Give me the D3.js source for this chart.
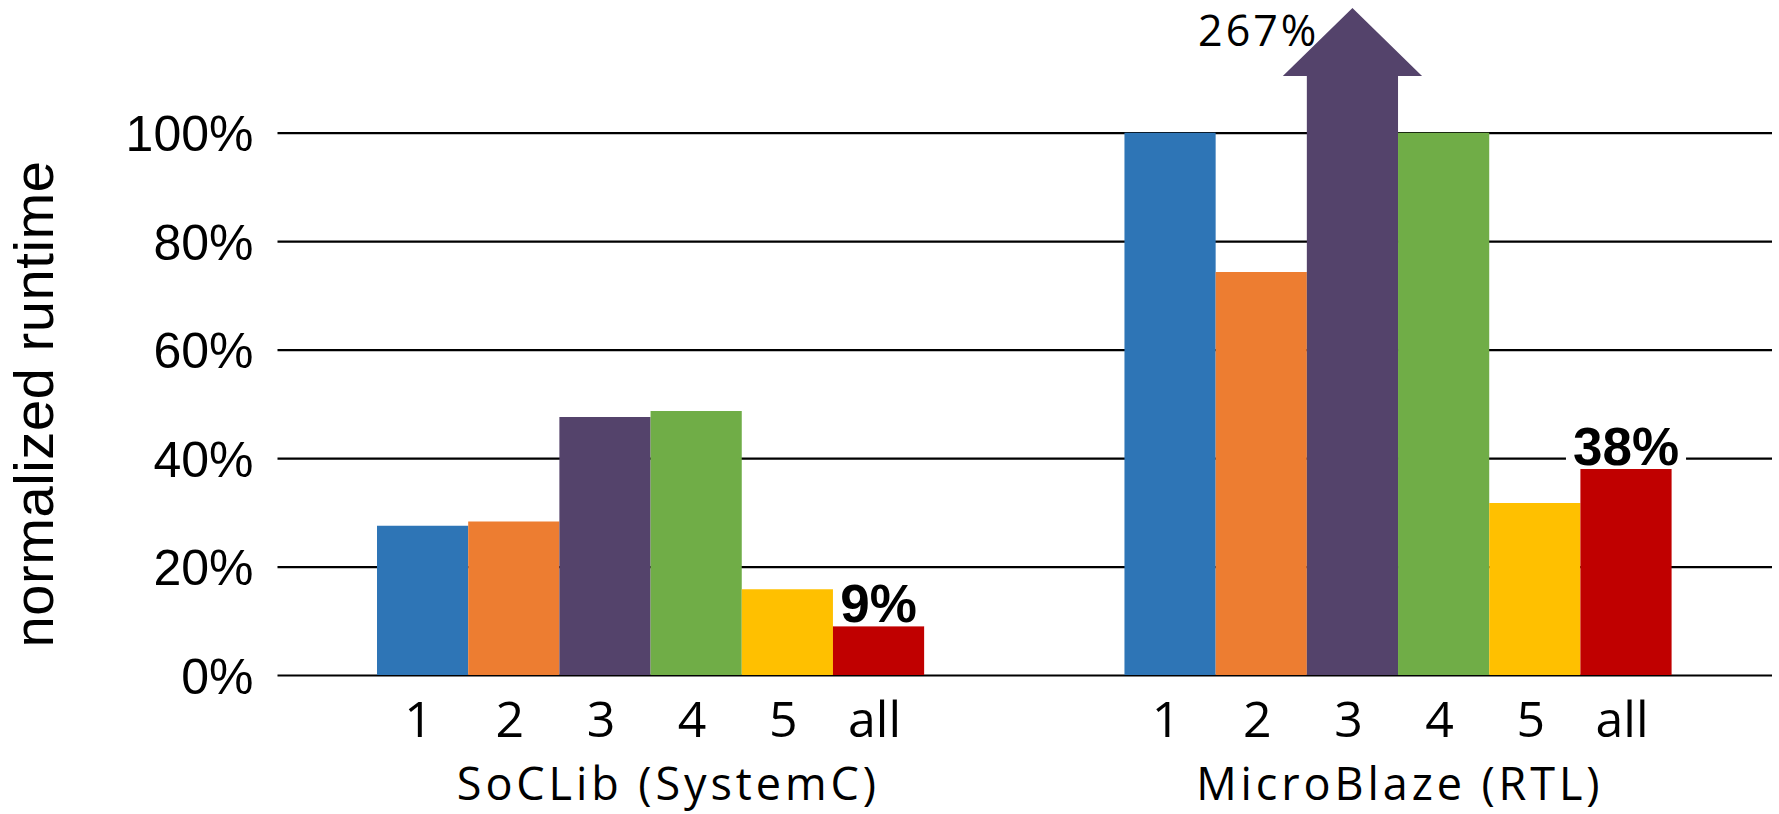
<!DOCTYPE html>
<html>
<head>
<meta charset="utf-8">
<script src="https://cdn.jsdelivr.net/npm/d3@7"></script>
<style>
  html, body { margin: 0; padding: 0; background: #fff; }
  svg { display: block; }
</style>
</head>
<body>
<svg id="chart" width="1779" height="814"></svg>
<script>
// ---- data ----
const groups = ["SoCLib (SystemC)", "MicroBlaze (RTL)"];
const configs = ["1", "2", "3", "4", "5", "all"];
const socLibRuntime = [27.5, 28.3, 47.6, 48.7, 15.8, 9];
const microBlazeRuntime = [100, 74.3, 267, 100, 31.7, 38];
const yTicks = [0, 20, 40, 60, 80, 100];
const labelledConfig = "all";

// ---- styling / layout ----
const colors = ["#2E75B6", "#ED7D31", "#54436B", "#70AD47", "#FFC000", "#C00000"];
const W = 1779, H = 814;
const plotLeft = 277.5, plotRight = 1772;
const yBase = 675, yTop = 8;
const yVisibleMax = 123;          // values above this are drawn as an arrow
const arrowHead = 68;             // arrowhead height in px
const arrowOverhang = 24;         // how far the head sticks out past the shaft
const groupLabelShift = [16, 0];

const series = [socLibRuntime, microBlazeRuntime];
const rows = [];
groups.forEach((g, gi) => configs.forEach((c, ci) =>
  rows.push({ group: g, gi, config: c, ci, value: series[gi][ci] })));

const svg = d3.select("#chart");
svg.append("rect").attr("width", W).attr("height", H).attr("fill", "#fff");

const y = d3.scaleLinear().domain([0, yVisibleMax]).range([yBase, yTop]).clamp(true);
const x0 = d3.scaleBand().domain(groups).range([377, 1671.6]).paddingInner(0.268).paddingOuter(0);
const x1 = d3.scaleBand().domain(configs).range([0, x0.bandwidth()]).padding(0);
const color = d3.scaleOrdinal().domain(configs).range(colors);

// gridlines + y tick labels
const yAxis = d3.axisLeft(y)
  .tickValues(yTicks)
  .tickFormat(d => d + "%")
  .tickSize(-(plotRight - plotLeft))
  .tickPadding(24);

const gy = svg.append("g").attr("transform", `translate(${plotLeft},0)`).call(yAxis);
gy.select(".domain").remove();
gy.selectAll(".tick line").attr("stroke", "#000").attr("stroke-width", 2.2);
gy.selectAll(".tick text")
  .attr("font-family", "'Liberation Sans', Arial, sans-serif")
  .attr("font-size", 50)
  .attr("fill", "#000")
  .attr("dy", "0.36em");

// y axis title
svg.append("text")
  .attr("transform", "translate(53,404) rotate(-90)")
  .attr("text-anchor", "middle")
  .attr("font-family", "'Liberation Sans', Arial, sans-serif")
  .attr("font-size", 56)
  .attr("letter-spacing", 0.6)
  .attr("fill", "#000")
  .text("normalized runtime");

// bars
const barX = d => x0(d.group) + x1(d.config);
const bw = x1.bandwidth();

const bars = svg.append("g");
bars.selectAll("path")
  .data(rows)
  .join("path")
  .attr("fill", d => color(d.config))
  .attr("d", d => {
    const xl = barX(d), xr = xl + bw;
    if (d.value <= yVisibleMax) {
      const yt = y(d.value);
      return `M${xl},${yBase}V${yt}H${xr}V${yBase}Z`;
    }
    // clipped value: shaft with an upward arrowhead
    const tip = y(d.value);
    const hb = tip + arrowHead;
    const cx = xl + bw / 2;
    return `M${xl},${yBase}V${hb}H${xl - arrowOverhang}L${cx},${tip}L${xr + arrowOverhang},${hb}H${xr}V${yBase}Z`;
  });

// value label for clipped bar
rows.filter(d => d.value > yVisibleMax).forEach(d => {
  svg.append("text")
    .attr("x", barX(d) + bw / 2 - 33)
    .attr("y", y(d.value) + 38)
    .attr("text-anchor", "end")
    .attr("font-family", "'Open Sans', sans-serif")
    .attr("font-size", 43)
    .attr("letter-spacing", 3)
    .attr("fill", "#000")
    .text(d.value + "%");
});

// highlighted labels on the combined configuration
rows.filter(d => d.config === labelledConfig).forEach(d => {
  const cx = barX(d) + bw / 2;
  const base = y(d.value) - 4;
  const g = svg.append("g");
  const bg = g.append("rect").attr("fill", "#fff");
  const t = g.append("text")
    .attr("x", cx)
    .attr("y", base)
    .attr("text-anchor", "middle")
    .attr("font-family", "'Liberation Sans', Arial, sans-serif")
    .attr("font-weight", "bold")
    .attr("font-size", 53)
    .attr("fill", "#000")
    .text(Math.round(d.value) + "%");
  const bb = t.node().getBBox();
  bg.attr("x", bb.x - 7).attr("width", bb.width + 14)
    .attr("y", base - 41).attr("height", 45);
});

// config labels under bars
svg.append("g").selectAll("text")
  .data(rows)
  .join("text")
  .attr("x", d => barX(d) + bw / 2 - 4)
  .attr("y", 737)
  .attr("text-anchor", "middle")
  .attr("font-family", "'Open Sans', sans-serif")
  .attr("font-size", 50)
  .attr("fill", "#000")
  .text(d => d.config);

// group labels
svg.append("g").selectAll("text")
  .data(groups)
  .join("text")
  .attr("x", (g, i) => x0(g) + x0.bandwidth() / 2 + groupLabelShift[i] + 1.8)
  .attr("y", 800)
  .attr("text-anchor", "middle")
  .attr("font-family", "'Open Sans', sans-serif")
  .attr("font-size", 45)
  .attr("letter-spacing", 3.9)
  .attr("fill", "#000")
  .text(g => g);
</script>
</body>
</html>
